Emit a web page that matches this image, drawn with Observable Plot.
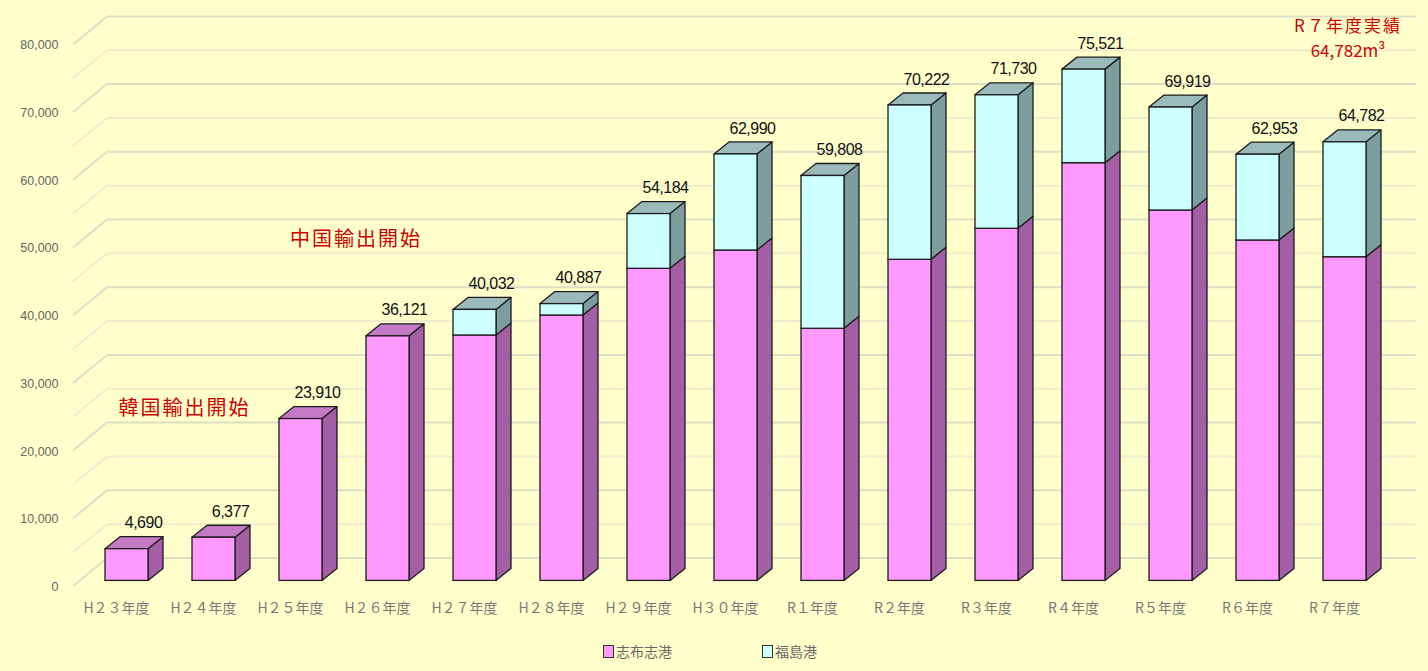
<!DOCTYPE html>
<html><head><meta charset="utf-8">
<script src="https://cdn.jsdelivr.net/npm/d3@7"></script>
<script src="https://cdn.jsdelivr.net/npm/@observablehq/plot@0.6"></script>
<style>
html,body{margin:0;padding:0;background:#FFFFCC;}
#chart{width:1428px;height:671px;background:#FFFFCC;overflow:hidden;}
.legend{display:flex;justify-content:center;gap:90px;height:30px;align-items:center;font-family:"Noto Sans CJK JP",sans-serif;font-size:14px;color:#666;padding-right:8px;}
.legend span.item{display:flex;align-items:center;gap:2px;}
.legend i{display:inline-block;width:9px;height:11px;border:1.5px solid #333;}
</style></head>
<body><div id="chart"></div>
<script>
// ---- data ----
const years = ["H２３年度","H２４年度","H２５年度","H２６年度","H２７年度","H２８年度","H２９年度","H３０年度","R１年度","R２年度","R３年度","R４年度","R５年度","R６年度","R７年度"];
const ports = ["志布志港","福島港"];
const shibushi  = [4690, 6377, 23910, 36121, 36250, 39200, 46100, 48800, 37240, 47430, 52010, 61700, 54710, 50280, 47810];
const fukushima = [0, 0, 0, 0, 3782, 1687, 8084, 14190, 22568, 22792, 19720, 13821, 15209, 12673, 16972];
const totals    = [4690, 6377, 23910, 36121, 40032, 40887, 54184, 62990, 59808, 70222, 71730, 75521, 69919, 62953, 64782];
const yTicks = [0, 10000, 20000, 30000, 40000, 50000, 60000, 70000, 80000];
const gridVals = [0,5000,10000,15000,20000,25000,30000,35000,40000,45000,50000,55000,60000,65000,70000,75000,80000];
const notes = ["韓国輸出開始","中国輸出開始"];
const noteYears = ["H２３年度","H２５年度"];
const noteValues = [25500, 50400];
const resultLines = ["R７年度実績","64,782m³"];

const PINK = "#FF99FF", PINK_SIDE = "#A35EA6", PINK_TOP = "#C47AC6";
const CYAN = "#CCFFFF", CYAN_SIDE = "#7C9E9E", CYAN_TOP = "#9BBBBB";
const STROKE = "#1c1c1c";
const RED = "#CC0000";

const rows = [];
years.forEach((yr,i)=>{
  rows.push({year:yr, port:ports[0], value:shibushi[i]});
  if (fukushima[i] > 0) rows.push({year:yr, port:ports[1], value:fukushima[i]});
});
const labelRows = years.map((yr,i)=>({year:yr, total:totals[i]}));

const H = 636;
const DX = 15, DY = -12;

function grid3d(index, scales, values, dims) {
  const y = scales.y;
  const g = d3.create("svg:g");
  const L = dims.marginLeft, R = dims.width - dims.marginRight + 44.4;
  for (const v of gridVals) {
    const yy = y(v);
    const major = v % 10000 === 0;
    const c = major ? "#DEDDC6" : "#EEECCD";
    g.append("line").attr("x1", L-32).attr("y1", yy+5.6).attr("x2", L+2).attr("y2", yy-22.4)
      .attr("stroke", c).attr("stroke-width", 2);
    g.append("line").attr("x1", L+2).attr("y1", yy-22.4).attr("x2", R).attr("y2", yy-22.4)
      .attr("stroke", c).attr("stroke-width", 2);
  }
  return g.node();
}

function sides3d(index, scales) {
  const x = scales.x, y = scales.y;
  const bw = x.bandwidth ? x.bandwidth() : 43;
  const g = d3.create("svg:g").attr("stroke", STROKE).attr("stroke-width", 1.3).attr("stroke-linejoin","round");
  years.forEach((yr,i)=>{
    const x0 = x(yr), x1 = x0 + bw;
    const segs = [[0, shibushi[i], PINK_SIDE, PINK_TOP],[shibushi[i], shibushi[i]+fukushima[i], CYAN_SIDE, CYAN_TOP]].filter(s=>s[1]>s[0]);
    segs.forEach(([a,b,side])=>{
      const pts = [[x1,y(a)],[x1+DX,y(a)+DY],[x1+DX,y(b)+DY],[x1,y(b)]];
      g.append("polygon").attr("points", pts.map(p=>p.join(",")).join(" ")).attr("fill", side);
    });
    const last = segs[segs.length-1];
    const yt = y(last[1]);
    const tp = [[x0,yt],[x1,yt],[x1+DX,yt+DY],[x0+DX,yt+DY]];
    g.append("polygon").attr("points", tp.map(p=>p.join(",")).join(" ")).attr("fill", last[3]);
  });
  return g.node();
}

const plot = Plot.plot({
  width: 1428, height: H,
  marginLeft: 105, marginRight: 56.4, marginTop: 38.8, marginBottom: H - 580.4,
  style: {background: "transparent", overflow: "visible"},
  x: {type: "band", domain: years, paddingInner: 0.508, paddingOuter: 0, align: 0, axis: null},
  y: {domain: [0, 80000], axis: null},
  color: {domain: ports, range: [PINK, CYAN]},
  marks: [
    grid3d,
    Plot.text(yTicks, {y: d=>d, frameAnchor: "left", dx: -47, dy: 6, textAnchor: "end",
      text: d=>d3.format(",")(d), fill: "#666", fontSize: 12.5, fontFamily: "Liberation Sans"}),
    Plot.text(years, {x: d=>d, frameAnchor: "bottom", dx: -10.5, dy: 32, text: d=>d,
      fill: "#777", fontSize: 14, fontFamily: "Noto Sans CJK JP"}),
    sides3d,
    Plot.barY(rows, {x: "year", y: "value", fill: "port", stroke: STROKE, strokeWidth: 1.3}),
    Plot.text(labelRows, {x: "year", y: "total", text: d=>d3.format(",")(d.total), dx: 16.5, dy: -26,
      fill: "#111", fontSize: 16, fontFamily: "Liberation Sans"}),
    Plot.text([notes[0]], {x: ()=>noteYears[0], y: ()=>noteValues[0], text: d=>d, textAnchor: "start",
      dx: -8.5, fill: RED, fontSize: 20, fontFamily: "Noto Sans CJK JP"}),
    Plot.text([notes[1]], {x: ()=>noteYears[1], y: ()=>noteValues[1], text: d=>d, textAnchor: "start",
      dx: -11, fill: RED, fontSize: 20, fontFamily: "Noto Sans CJK JP"}),
    Plot.text([resultLines[0]], {x: ()=>years[14], y: ()=>80000, text: d=>d, dx: 3, dy: -13,
      fill: RED, fontSize: 17, fontFamily: "Noto Sans CJK JP"}),
    Plot.text([resultLines[1]], {x: ()=>years[14], y: ()=>80000, text: d=>d, dx: 3, dy: 12,
      fill: RED, fontSize: 17, fontFamily: "Noto Sans CJK JP"})
  ]
});
d3.select(plot).selectAll("text").each(function(){
  const t = this.textContent;
  if (notes.includes(t) || t === resultLines[0]) this.setAttribute("letter-spacing", "2");
});
d3.select(plot).selectAll('g[fill="#111"]').attr("letter-spacing", "-0.5");
document.getElementById("chart").appendChild(plot);
const lg = document.createElement("div");
lg.className = "legend";
lg.innerHTML = ports.map((p,i)=>`<span class="item"><i style="background:${[PINK,CYAN][i]}"></i>${p}</span>`).join("");
document.getElementById("chart").appendChild(lg);
</script>
</body></html>
